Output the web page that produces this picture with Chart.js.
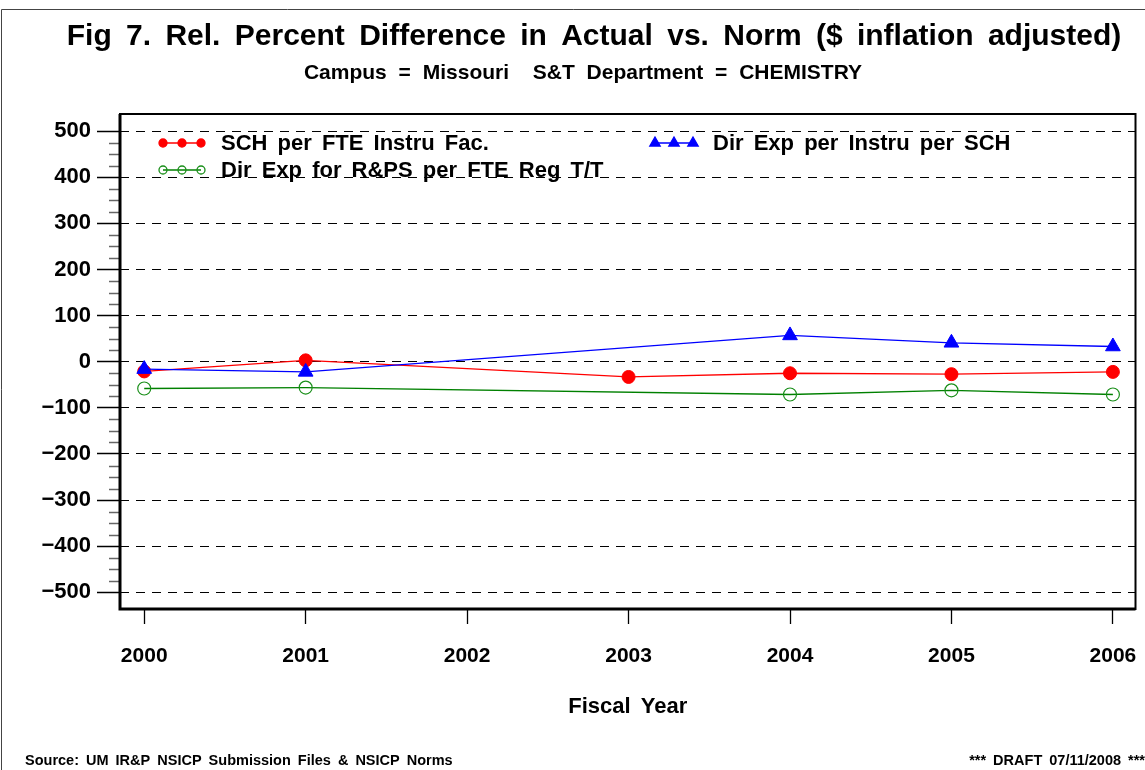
<!DOCTYPE html>
<html lang="en">
<head>
    <meta charset="UTF-8">
    <title>Fig 7. Rel. Percent Difference in Actual vs. Norm</title>
    <script src="https://cdn.jsdelivr.net/npm/chart.js"></script>
    <style>
        html, body { margin: 0; padding: 0; background: #fff; }
        #wrap { width: 1145px; height: 770px; }
    </style>
</head>
<body>
    <div id="wrap"><canvas id="fig7"></canvas></div>

    <script>
        // data (2002 has no data, lines skip over it)
        const years = [2000, 2001, 2002, 2003, 2004, 2005, 2006];
        const schPerFte = [-21, 3, null, -33, -25, -27, -22];
        const dirExpPerSch = [-16, -22, null, null, 57, 41, 33];
        const dirExpRps = [-58, -56, null, null, -71, -62, -71];
        const yTickValues = [-500, -400, -300, -200, -100, 0, 100, 200, 300, 400, 500];

        const titleText = 'Fig 7. Rel. Percent Difference in Actual vs. Norm ($ inflation adjusted)';
        const subtitleText = 'Campus = Missouri  S&T Department = CHEMISTRY';
        const xTitle = 'Fiscal Year';
        const sourceText = 'Source: UM IR&P NSICP Submission Files & NSICP Norms';
        const draftText = '*** DRAFT 07/11/2008 ***';

        const FONT = '"Liberation Sans", Arial, sans-serif';

        function toPoints(vals) {
            return years.map((y, i) => ({ x: y, y: vals[i] }));
        }

        function setSpacing(ctx, px) {
            if ('wordSpacing' in ctx) ctx.wordSpacing = px + 'px';
        }

        // legend slots: which dataset, where the symbol starts, text row
        const legendSlots = [
            { ds: 1, x: 163, y: 143 },
            { ds: 0, x: 655, y: 143 },
            { ds: 2, x: 163, y: 170 }
        ];

        const decor = {
            id: 'decor',
            afterDatasetsDraw(chart) {
                const ctx = chart.ctx;
                const ys = chart.scales.y;
                const area = chart.chartArea;

                // minor ticks on the y axis
                ctx.save();
                ctx.strokeStyle = '#666';
                ctx.lineWidth = 1.5;
                for (let v = -475; v <= 475; v += 25) {
                    if (v % 100 === 0) continue;
                    const py = Math.round(ys.getPixelForValue(v)) + 0.5;
                    ctx.beginPath();
                    ctx.moveTo(area.left - 11, py);
                    ctx.lineTo(area.left, py);
                    ctx.stroke();
                }
                ctx.restore();

                // plot frame
                ctx.save();
                ctx.strokeStyle = '#000';
                ctx.lineWidth = 2;
                ctx.strokeRect(area.left, area.top, area.right - area.left, area.bottom - area.top);
                ctx.lineWidth = 3;
                ctx.beginPath();
                ctx.moveTo(area.left, area.top);
                ctx.lineTo(area.left, area.bottom);
                ctx.lineTo(area.right, area.bottom);
                ctx.stroke();
                ctx.restore();

                // legend
                ctx.save();
                ctx.font = 'bold 22px ' + FONT;
                setSpacing(ctx, 4);
                ctx.textBaseline = 'middle';
                legendSlots.forEach(slot => {
                    const ds = chart.data.datasets[slot.ds];
                    const xs = [slot.x, slot.x + 19, slot.x + 38];
                    ctx.strokeStyle = ds.borderColor;
                    ctx.lineWidth = 1.3;
                    ctx.beginPath();
                    ctx.moveTo(xs[0], slot.y);
                    ctx.lineTo(xs[2], slot.y);
                    ctx.stroke();
                    xs.forEach(px => {
                        ctx.fillStyle = ds.pointBackgroundColor;
                        ctx.strokeStyle = ds.pointBorderColor;
                        Chart.helpers.drawPoint(ctx, {
                            pointStyle: ds.pointStyle,
                            radius: ds.legendRadius,
                            borderWidth: ds.pointBorderWidth
                        }, px, slot.y);
                    });
                    ctx.fillStyle = '#000';
                    ctx.fillText(ds.label, slot.x + 58, slot.y + 1);
                });
                ctx.restore();
            },
            afterDraw(chart) {
                const ctx = chart.ctx;
                const area = chart.chartArea;
                ctx.save();
                ctx.fillStyle = '#000';
                ctx.textBaseline = 'middle';

                // outer border
                ctx.strokeStyle = '#444';
                ctx.lineWidth = 1;
                ctx.beginPath();
                ctx.moveTo(1.5, 770);
                ctx.lineTo(1.5, 9.5);
                ctx.lineTo(1145, 9.5);
                ctx.stroke();

                ctx.textAlign = 'center';
                ctx.font = 'bold 30px ' + FONT;
                setSpacing(ctx, 6);
                ctx.fillText(titleText, 594, 37);

                ctx.font = 'bold 21px ' + FONT;
                setSpacing(ctx, 6);
                ctx.fillText(subtitleText, 583, 73);

                ctx.font = 'bold 22px ' + FONT;
                setSpacing(ctx, 4);
                ctx.fillText(xTitle, (area.left + area.right) / 2, 707);

                ctx.font = 'bold 14.5px ' + FONT;
                setSpacing(ctx, 3);
                ctx.textAlign = 'left';
                ctx.fillText(sourceText, 25, 761);
                ctx.textAlign = 'right';
                ctx.fillText(draftText, 1145, 761);
                ctx.restore();
            }
        };

        const ctx = document.getElementById('fig7').getContext('2d');
        new Chart(ctx, {
            type: 'line',
            data: {
                datasets: [
                    {
                        label: 'Dir Exp per Instru per SCH',
                        data: toPoints(dirExpPerSch),
                        borderColor: '#0000ff',
                        backgroundColor: '#0000ff',
                        pointBackgroundColor: '#0000ff',
                        pointBorderColor: '#0000ff',
                        pointStyle: 'triangle',
                        pointRadius: 8.5,
                        legendRadius: 6,
                        pointBorderWidth: 1,
                        borderWidth: 1.3,
                        order: 0
                    },
                    {
                        label: 'SCH per FTE Instru Fac.',
                        data: toPoints(schPerFte),
                        borderColor: '#ff0000',
                        backgroundColor: '#ff0000',
                        pointBackgroundColor: '#ff0000',
                        pointBorderColor: '#ff0000',
                        pointStyle: 'circle',
                        pointRadius: 6.5,
                        legendRadius: 4,
                        pointBorderWidth: 1,
                        borderWidth: 1.3,
                        order: 1
                    },
                    {
                        label: 'Dir Exp for R&PS per FTE Reg T/T',
                        data: toPoints(dirExpRps),
                        borderColor: '#008000',
                        backgroundColor: 'rgba(0,0,0,0)',
                        pointBackgroundColor: 'rgba(0,0,0,0)',
                        pointBorderColor: '#1a8f1a',
                        pointStyle: 'circle',
                        pointRadius: 6.5,
                        legendRadius: 4,
                        pointBorderWidth: 1.2,
                        borderWidth: 1.3,
                        order: 2
                    }
                ]
            },
            options: {
                responsive: true,
                maintainAspectRatio: false,
                animation: false,
                spanGaps: true,
                events: [],
                layout: { padding: { top: 114, right: 8, left: 0, bottom: 0 } },
                elements: { line: { tension: 0 } },
                plugins: {
                    legend: { display: false },
                    title: { display: false },
                    tooltip: { enabled: false }
                },
                scales: {
                    x: {
                        type: 'linear',
                        min: 1999.85,
                        max: 2006.14,
                        afterBuildTicks: scale => { scale.ticks = years.map(v => ({ value: v })); },
                        afterFit: scale => {
                            scale.height = 161;
                            scale.paddingLeft = 0;
                            scale.paddingRight = 0;
                        },
                        border: { display: false },
                        grid: {
                            drawOnChartArea: false,
                            drawTicks: true,
                            tickLength: 15,
                            tickColor: '#000',
                            tickWidth: 1.3
                        },
                        ticks: {
                            color: '#000',
                            padding: 20,
                            maxRotation: 0,
                            font: { family: FONT, size: 21, weight: 'bold' },
                            callback: v => String(v)
                        }
                    },
                    y: {
                        min: -536,
                        max: 537,
                        afterBuildTicks: scale => { scale.ticks = yTickValues.map(v => ({ value: v })); },
                        afterFit: scale => {
                            scale.width = 120;
                            scale.paddingTop = 0;
                            scale.paddingBottom = 0;
                        },
                        border: { display: false, dash: [9, 7] },
                        grid: {
                            color: '#000',
                            lineWidth: 1,
                            drawTicks: true,
                            tickLength: 23,
                            tickColor: '#000',
                            tickWidth: 1.5
                        },
                        ticks: {
                            color: '#000',
                            padding: 6,
                            font: { family: FONT, size: 22, weight: 'bold' },
                            callback: v => (v < 0 ? '\u2212' + Math.abs(v) : String(v))
                        }
                    }
                }
            },
            plugins: [decor]
        });
    </script>
</body>
</html>
